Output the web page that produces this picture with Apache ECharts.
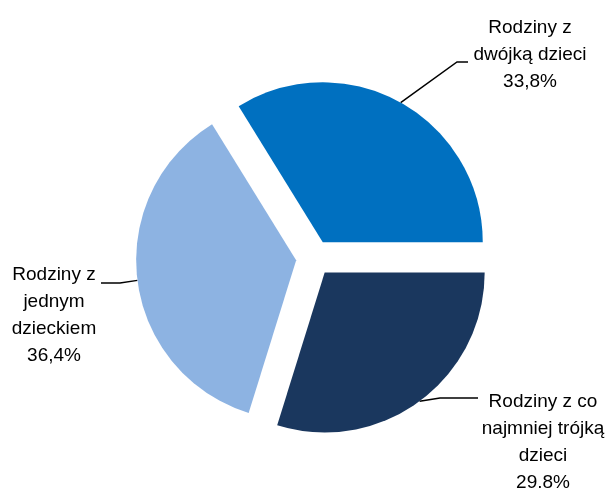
<!DOCTYPE html>
<html><head><meta charset="utf-8">
<script src="https://cdn.jsdelivr.net/npm/echarts@6/dist/echarts.min.js"></script>
<style>html,body{margin:0;padding:0;background:#fff}#c{width:609px;height:490px}</style>
</head><body><div id="c"></div>
<script>
const categories = ['Rodziny z\ndwójką dzieci', 'Rodziny z co\nnajmniej trójką\ndzieci', 'Rodziny z\njednym\ndzieckiem'];
const values = [33.8, 29.8, 36.4];
const valueLabels = ['33,8%', '29.8%', '36,4%'];
const colors = ['#0070C0', '#1A375E', '#8DB3E2'];

const CX = 314, CY = 258, R = 160, OFF = 18, START = 121.7;
const labelPos = [[530, 55], [543, 442], [54, 315]];
const labelElbow = [[[457, 62], [468, 62]], [[440, 398], [478, 398]], [[120, 283], [101, 283]]];

const total = values.reduce((a, b) => a + b, 0);
const midAngles = [];
let acc = 0;
values.forEach(v => {
  const a0 = START - acc / total * 360;
  acc += v;
  const a1 = START - acc / total * 360;
  midAngles.push((a0 + a1) / 2 * Math.PI / 180);
});
function anchor(i) {
  const a = midAngles[i];
  return [CX + (OFF + R) * Math.cos(a), CY - (OFF + R) * Math.sin(a)];
}

const graphics = [];
values.forEach((v, i) => {
  graphics.push({
    type: 'polyline', silent: true,
    shape: {points: [anchor(i)].concat(labelElbow[i])},
    style: {stroke: '#000', lineWidth: 1.5, fill: null}
  });
  graphics.push({
    type: 'text', silent: true,
    x: labelPos[i][0], y: labelPos[i][1],
    style: {
      text: categories[i] + '\n' + valueLabels[i],
      fill: '#000',
      font: '19px "Liberation Sans", Arial, sans-serif',
      lineHeight: 27,
      align: 'center', verticalAlign: 'middle',
      textAlign: 'center', textVerticalAlign: 'middle'
    }
  });
});

const chart = echarts.init(document.getElementById('c'), null, {renderer: 'canvas'});
chart.setOption({
  animation: false,
  backgroundColor: '#fff',
  series: [{
    type: 'pie',
    center: [CX, CY],
    radius: R,
    startAngle: START,
    clockwise: true,
    avoidLabelOverlap: false,
    selectedMode: 'multiple',
    selectedOffset: OFF,
    emphasis: {disabled: true, scale: false},
    label: {show: false},
    labelLine: {show: false},
    data: values.map((v, i) => ({
      name: categories[i], value: v, selected: true,
      itemStyle: {color: colors[i]},
      select: {itemStyle: {color: colors[i]}}
    }))
  }],
  graphic: graphics
});
</script>
</body></html>
